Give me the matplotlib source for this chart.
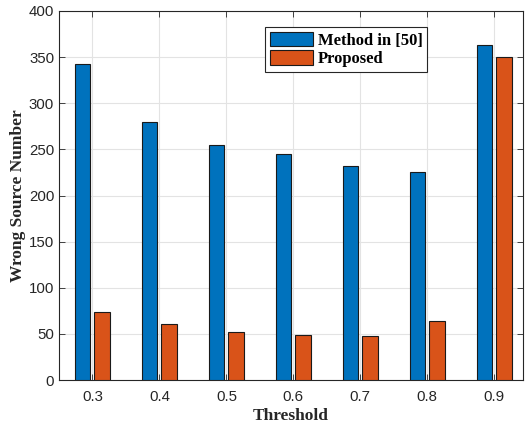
import numpy as np
import matplotlib
matplotlib.use("Agg")
import matplotlib.pyplot as plt

thresholds = ["0.3", "0.4", "0.5", "0.6", "0.7", "0.8", "0.9"]
method50 = [343, 280, 255, 245, 232, 225, 363]
proposed = [74, 61, 52, 49, 48, 64, 350]

plt.rcParams['font.family'] = ['Liberation Sans', 'DejaVu Sans']

fig = plt.figure(figsize=(5.25, 4.28), dpi=100)
ax = fig.add_axes([59/525, 1 - 380/428, 464/525, 369/428])

x = np.arange(1, len(thresholds) + 1)
w = 0.23
off = 0.145
ax.bar(x - off, method50, w, color='#0072BD', edgecolor='#1a1a1a', linewidth=0.8,
       label='Method in [50]', zorder=3)
ax.bar(x + off, proposed, w, color='#D95319', edgecolor='#1a1a1a', linewidth=0.8,
       label='Proposed', zorder=3)

ax.set_xlim(0.5, 7.43)
ax.set_ylim(0, 400)
ax.set_xticks(x)
ax.set_xticklabels(thresholds)
ax.set_yticks(np.arange(0, 401, 50))
ax.grid(True, color='#e3e3e3', linewidth=0.8, zorder=0)
ax.tick_params(direction='in', top=True, right=True, labelsize=10.8, colors='#262626',
               length=4, width=0.6)
ax.tick_params(axis='x', pad=7)
for s in ax.spines.values():
    s.set_color('#262626')
    s.set_linewidth(0.8)

ax.set_xlabel('Threshold', fontfamily='Liberation Serif', fontweight='bold',
              fontsize=12.5, color='#262626', labelpad=3)
ax.set_ylabel('Wrong Source Number', fontfamily='Liberation Serif', fontweight='bold',
              fontsize=12.5, color='#262626', labelpad=2)

leg = ax.legend(loc='upper left', bbox_to_anchor=(0.444, 0.957), borderaxespad=0,
                prop={'family': 'Liberation Serif', 'weight': 'bold', 'size': 12},
                fancybox=False, framealpha=1, edgecolor='#262626',
                handlelength=2.6, handleheight=0.95, handletextpad=0.25,
                labelspacing=0.1, borderpad=0.3)
leg.get_frame().set_linewidth(0.8)

fig.savefig('out.png', dpi=100)
